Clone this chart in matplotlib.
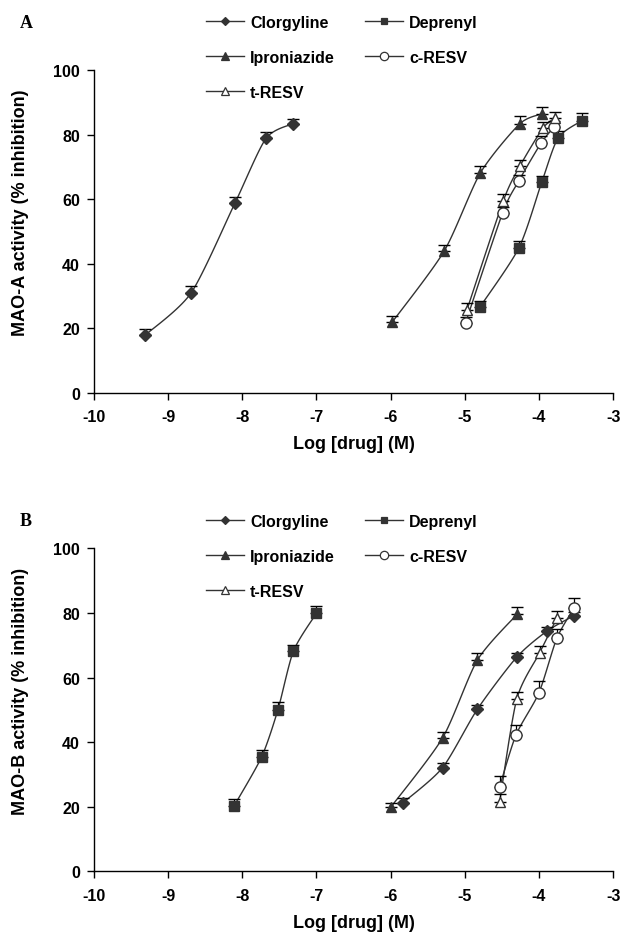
import numpy as np
import matplotlib
matplotlib.use("Agg")
import matplotlib.pyplot as plt
from matplotlib.lines import Line2D

plt.rcParams['font.family'] = ['Liberation Sans', 'DejaVu Sans']

# ---------------- Panel A data (MAO-A) ----------------
clor_A_x = [-9.31, -8.69, -8.10, -7.68, -7.31]
clor_A_y = [17.8, 30.9, 58.7, 78.8, 83.4]
clor_A_e = [2.0, 2.0, 2.0, 2.0, 1.5]

dep_A_x = [-4.80, -4.27, -3.96, -3.74, -3.42]
dep_A_y = [26.4, 44.9, 65.4, 79.0, 84.3]
dep_A_e = [2.1, 2.2, 1.8, 2.2, 2.3]

ipro_A_x = [-5.98, -5.28, -4.79, -4.26, -3.96]
ipro_A_y = [21.8, 43.8, 68.1, 83.3, 86.4]
ipro_A_e = [2.0, 2.0, 2.0, 2.5, 2.0]

cres_A_x = [-4.99, -4.49, -4.27, -3.97, -3.80]
cres_A_y = [21.6, 55.7, 65.7, 77.4, 82.2]
cres_A_e = [1.8, 1.8, 1.8, 2.0, 2.0]

tres_A_x = [-4.97, -4.48, -4.26, -3.95, -3.79]
tres_A_y = [25.7, 59.5, 70.1, 81.9, 85.0]
tres_A_e = [2.0, 2.0, 2.0, 2.0, 2.0]

# ---------------- Panel B data (MAO-B) ----------------
clor_B_x = [-5.83, -5.30, -4.83, -4.30, -3.89, -3.53]
clor_B_y = [21.3, 32.1, 50.2, 66.3, 74.4, 79.1]
clor_B_e = [1.5, 1.5, 1.2, 1.2, 1.2, 1.2]

dep_B_x = [-8.11, -7.74, -7.52, -7.31, -7.00]
dep_B_y = [20.3, 35.4, 50.0, 68.2, 79.9]
dep_B_e = [2.1, 2.3, 2.4, 2.0, 2.3]

ipro_B_x = [-6.00, -5.30, -4.83, -4.29]
ipro_B_y = [19.8, 41.3, 65.4, 79.7]
ipro_B_e = [1.5, 1.8, 2.2, 2.2]

cres_B_x = [-4.53, -4.31, -4.00, -3.76, -3.53]
cres_B_y = [26.2, 42.2, 55.3, 72.1, 81.4]
cres_B_e = [3.3, 3.0, 3.5, 3.0, 3.3]

tres_B_x = [-4.53, -4.30, -3.99, -3.76]
tres_B_y = [21.5, 53.3, 67.7, 78.3]
tres_B_e = [2.3, 2.3, 2.2, 2.2]

labels = ['Clorgyline', 'Deprenyl', 'Iproniazide', 'c-RESV', 't-RESV']
xticks = [-10, -9, -8, -7, -6, -5, -4, -3]
yticks = [0, 20, 40, 60, 80, 100]

DARK = '#333333'
styles = {
    'Clorgyline': dict(marker='D', mfc=DARK, mec=DARK, ms=6),
    'Deprenyl': dict(marker='s', mfc=DARK, mec=DARK, ms=6.5),
    'Iproniazide': dict(marker='^', mfc=DARK, mec=DARK, ms=7.5),
    'c-RESV': dict(marker='o', mfc='white', mec=DARK, ms=8),
    't-RESV': dict(marker='^', mfc='white', mec=DARK, ms=7.5),
}


def smooth(x, y, n=20, k=8.0):
    """Bezier smoothing of the connecting line (Excel-like smoothed line)."""
    x = np.asarray(x, float)
    y = np.asarray(y, float)
    P = np.column_stack([x, y])
    if len(P) < 3:
        return x, y
    pts = np.vstack([P[0], P, P[-1]])
    out = []
    for i in range(1, len(pts) - 2):
        p0, p1, p2, p3 = pts[i - 1], pts[i], pts[i + 1], pts[i + 2]
        c1 = p1 + (p2 - p0) / k
        c2 = p2 - (p3 - p1) / k
        t = np.linspace(0, 1, n)[:, None]
        seg = ((1 - t) ** 3) * p1 + 3 * ((1 - t) ** 2) * t * c1 + 3 * (1 - t) * t ** 2 * c2 + t ** 3 * p2
        out.append(seg if i == 1 else seg[1:])
    S = np.vstack(out)
    return S[:, 0], S[:, 1]


def draw_panel(ax, series, ylabel):
    for name, (xs, ys, es) in series.items():
        st = styles[name]
        sx, sy = smooth(np.array(xs) * 7.4, np.array(ys) * 0.3225)
        ax.plot(sx / 7.4, sy / 0.3225, color=DARK, lw=1.0, zorder=2)
        ax.errorbar(xs, ys, yerr=[np.zeros(len(es)), es], fmt='none', ecolor='black',
                    elinewidth=0.9, capsize=4, capthick=1.0, zorder=3)
        ax.plot(xs, ys, linestyle='none', marker=st['marker'], mfc=st['mfc'],
                mec=st['mec'], ms=st['ms'], mew=1.0, zorder=4)
    ax.set_xlim(-10, -3)
    ax.set_ylim(0, 100)
    ax.set_xticks(xticks)
    ax.set_yticks(yticks)
    ax.set_xticklabels([str(t) for t in xticks], fontweight='bold', fontsize=11.5)
    ax.set_yticklabels([str(t) for t in yticks], fontweight='bold', fontsize=11.5)
    ax.spines['top'].set_visible(False)
    ax.spines['right'].set_visible(False)
    for s in ('left', 'bottom'):
        ax.spines[s].set_linewidth(1.0)
    ax.tick_params(direction='out', length=5, width=1.0)
    ax.tick_params(axis='x', pad=7)
    ax.tick_params(axis='y', pad=5)
    ax.set_xlabel('Log [drug] (M)', fontweight='bold', fontsize=13, labelpad=8)
    ax.set_ylabel(ylabel, fontweight='bold', fontsize=13)
    ax.yaxis.set_label_coords(-0.125, 0.56)


def legend_handles():
    order = ['Clorgyline', 'Iproniazide', 't-RESV', 'Deprenyl', 'c-RESV']
    hs = []
    for name in order:
        st = styles[name]
        hs.append(Line2D([0], [0], color=DARK, lw=1.0, marker=st['marker'], mfc=st['mfc'],
                         mec=st['mec'], ms=st['ms'] * 0.75, mew=0.9, label=name))
    return hs, order


fig = plt.figure(figsize=(6.24, 9.37), dpi=100)
axA = fig.add_axes([0.1506, 0.580, 0.832, 0.3442])
axB = fig.add_axes([0.1506, 0.0690, 0.832, 0.3448])

draw_panel(axA, {
    'Clorgyline': (clor_A_x, clor_A_y, clor_A_e),
    'Deprenyl': (dep_A_x, dep_A_y, dep_A_e),
    'Iproniazide': (ipro_A_x, ipro_A_y, ipro_A_e),
    'c-RESV': (cres_A_x, cres_A_y, cres_A_e),
    't-RESV': (tres_A_x, tres_A_y, tres_A_e),
}, 'MAO-A activity (% inhibition)')

draw_panel(axB, {
    'Clorgyline': (clor_B_x, clor_B_y, clor_B_e),
    'Deprenyl': (dep_B_x, dep_B_y, dep_B_e),
    'Iproniazide': (ipro_B_x, ipro_B_y, ipro_B_e),
    'c-RESV': (cres_B_x, cres_B_y, cres_B_e),
    't-RESV': (tres_B_x, tres_B_y, tres_B_e),
}, 'MAO-B activity (% inhibition)')

for top_px in (16, 515):
    hs, order = legend_handles()
    fig.legend(handles=hs, labels=order, ncol=2, loc='upper left',
               bbox_to_anchor=(206 / 624, 1 - top_px / 937), frameon=False,
               prop=dict(weight='bold', size=11.5), handlelength=2.4, handletextpad=0.35,
               columnspacing=1.9, labelspacing=1.25, borderaxespad=0, borderpad=0)

fig.text(20 / 624, 1 - 24 / 937, 'A', family=['Liberation Serif', 'DejaVu Serif'],
         fontweight='bold', fontsize=13, va='center', ha='left')
fig.text(20 / 624, 1 - 522 / 937, 'B', family=['Liberation Serif', 'DejaVu Serif'],
         fontweight='bold', fontsize=13, va='center', ha='left')

fig.savefig('out.png', dpi=100)
